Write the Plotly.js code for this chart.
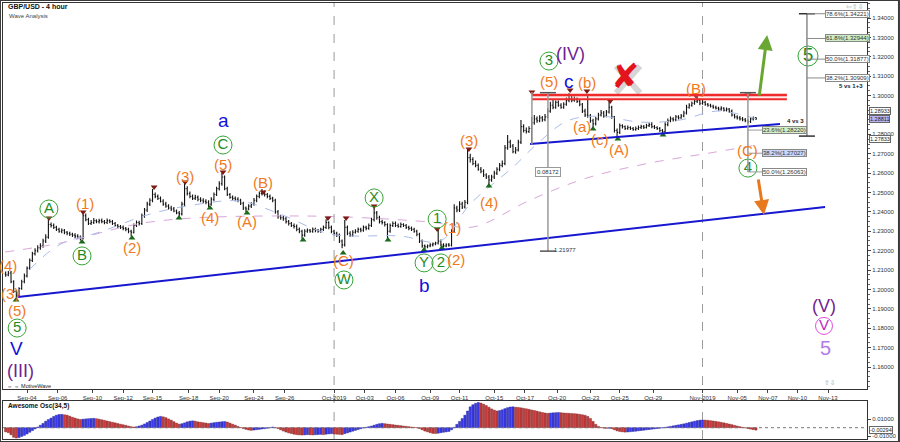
<!DOCTYPE html>
<html><head><meta charset="utf-8">
<script src="https://cdn.plot.ly/plotly-3.0.1.min.js"></script>
<style>html,body{margin:0;padding:0;background:#fff}#chart{width:900px;height:442px}</style>
</head><body><div id="chart"></div>
<script>
// ---------- DATA (4-hour bars, bar index 4..285 in trading time) ----------
const FIRST_BAR = 4;
const openP = [
1.2080,1.2075,
1.2085,1.2040,1.1990,1.1970,1.2005,1.2040,
1.2070,1.2110,1.2150,1.2185,1.2200,1.2215,
1.2225,1.2250,1.2270,1.2335,1.2330,1.2320,
1.2310,1.2300,1.2305,1.2295,1.2290,1.2285,
1.2280,1.2275,1.2270,1.2265,1.2380,1.2360,
1.2340,1.2345,1.2355,1.2350,1.2355,1.2350,
1.2345,1.2355,1.2350,1.2340,1.2330,1.2325,
1.2320,1.2315,1.2310,1.2300,1.2295,1.2330,
1.2345,1.2340,1.2380,1.2410,1.2440,1.2460,
1.2490,1.2480,1.2470,1.2455,1.2440,1.2430,
1.2420,1.2415,1.2405,1.2395,1.2390,1.2440,
1.2520,1.2495,1.2480,1.2470,1.2475,1.2465,
1.2460,1.2455,1.2450,1.2440,1.2465,1.2490,
1.2520,1.2545,1.2580,1.2520,1.2490,1.2475,
1.2470,1.2465,1.2460,1.2445,1.2420,1.2415,
1.2430,1.2440,1.2460,1.2480,1.2495,1.2500,
1.2490,1.2480,1.2470,1.2460,1.2400,1.2375,
1.2370,1.2365,1.2350,1.2340,1.2330,1.2325,
1.2310,1.2300,1.2280,1.2300,1.2305,1.2300,
1.2310,1.2305,1.2300,1.2310,1.2320,1.2345,
1.2320,1.2300,1.2290,1.2280,1.2250,1.2230,
1.2320,1.2290,1.2280,1.2295,1.2300,1.2310,
1.2305,1.2320,1.2315,1.2330,1.2360,1.2395,
1.2370,1.2350,1.2345,1.2335,1.2300,1.2330,
1.2340,1.2330,1.2325,1.2335,1.2330,1.2320,
1.2315,1.2310,1.2300,1.2285,1.2250,1.2225,
1.2220,1.2225,1.2230,1.2235,1.2240,1.2250,
1.2230,1.2225,1.2230,1.2228,1.2300,1.2420,
1.2410,1.2440,1.2425,1.2450,1.2680,1.2670,
1.2650,1.2640,1.2620,1.2610,1.2590,1.2580,
1.2565,1.2580,1.2600,1.2620,1.2640,1.2650,
1.2730,1.2760,1.2740,1.2710,1.2720,1.2760,
1.2840,1.2820,1.2815,1.2830,1.2860,1.2880,
1.2870,1.2885,1.2875,1.2890,1.2920,1.2950,
1.2940,1.2965,1.2950,1.2940,1.2955,1.2975,
1.2985,1.2975,1.2980,1.2970,1.2955,1.2920,
1.2900,1.2895,1.2870,1.2855,1.2880,1.2900,
1.2910,1.2895,1.2915,1.2940,1.2890,1.2820,
1.2810,1.2845,1.2840,1.2830,1.2835,1.2830,
1.2825,1.2830,1.2835,1.2840,1.2835,1.2845,
1.2850,1.2840,1.2835,1.2830,1.2820,1.2815,
1.2850,1.2870,1.2880,1.2875,1.2890,1.2885,
1.2895,1.2910,1.2940,1.2950,1.2960,1.2970,
1.2975,1.2960,1.2965,1.2955,1.2950,1.2945,
1.2940,1.2935,1.2930,1.2935,1.2925,1.2930,
1.2920,1.2900,1.2890,1.2885,1.2880,1.2875,
1.2870,1.2865,1.2880,1.2885];
const highP = [
1.2092,1.2095,
1.2095,1.2048,1.1998,1.2012,1.2050,1.2082,
1.2118,1.2160,1.2195,1.2212,1.2228,1.2238,
1.2262,1.2285,1.2358,1.2345,1.2340,1.2328,
1.2318,1.2315,1.2312,1.2302,1.2298,1.2292,
1.2290,1.2285,1.2278,1.2398,1.2392,1.2370,
1.2358,1.2368,1.2362,1.2365,1.2366,1.2358,
1.2366,1.2362,1.2358,1.2348,1.2338,1.2332,
1.2330,1.2322,1.2318,1.2308,1.2340,1.2356,
1.2355,1.2392,1.2420,1.2452,1.2470,1.2518,
1.2500,1.2490,1.2480,1.2465,1.2452,1.2440,
1.2432,1.2425,1.2412,1.2405,1.2452,1.2549,
1.2532,1.2505,1.2490,1.2488,1.2485,1.2475,
1.2470,1.2465,1.2460,1.2475,1.2500,1.2530,
1.2558,1.2601,1.2588,1.2530,1.2498,1.2485,
1.2480,1.2475,1.2468,1.2452,1.2428,1.2440,
1.2450,1.2472,1.2490,1.2505,1.2518,1.2510,
1.2498,1.2490,1.2478,1.2468,1.2410,1.2385,
1.2380,1.2375,1.2358,1.2348,1.2340,1.2335,
1.2320,1.2308,1.2310,1.2315,1.2312,1.2320,
1.2318,1.2312,1.2318,1.2330,1.2362,1.2352,
1.2330,1.2308,1.2298,1.2288,1.2258,1.2358,
1.2330,1.2300,1.2305,1.2310,1.2320,1.2318,
1.2330,1.2328,1.2340,1.2370,1.2425,1.2405,
1.2380,1.2360,1.2352,1.2342,1.2340,1.2350,
1.2350,1.2340,1.2345,1.2342,1.2338,1.2328,
1.2325,1.2318,1.2308,1.2292,1.2258,1.2232,
1.2232,1.2238,1.2242,1.2246,1.2307,1.2258,
1.2238,1.2238,1.2240,1.2310,1.2440,1.2432,
1.2455,1.2452,1.2462,1.2724,1.2700,1.2682,
1.2665,1.2650,1.2632,1.2620,1.2600,1.2590,
1.2592,1.2612,1.2630,1.2652,1.2665,1.2745,
1.2797,1.2772,1.2750,1.2735,1.2772,1.2874,
1.2852,1.2835,1.2842,1.2890,1.2900,1.2892,
1.2898,1.2895,1.2905,1.2935,1.2968,1.2977,
1.2975,1.2975,1.2960,1.2965,1.2990,1.3012,
1.2998,1.2995,1.2990,1.2980,1.2962,1.2932,
1.3000,1.2905,1.2880,1.2890,1.2912,1.2925,
1.2920,1.2925,1.2967,1.2948,1.2895,1.2830,
1.2856,1.2852,1.2845,1.2845,1.2842,1.2838,
1.2840,1.2845,1.2850,1.2848,1.2855,1.2860,
1.2862,1.2848,1.2842,1.2838,1.2828,1.2862,
1.2882,1.2892,1.2888,1.2900,1.2898,1.2905,
1.2922,1.2952,1.2960,1.2970,1.2980,1.2993,
1.2985,1.2978,1.2972,1.2962,1.2958,1.2952,
1.2948,1.2942,1.2945,1.2940,1.2938,1.2936,
1.2928,1.2905,1.2898,1.2895,1.2890,1.2884,
1.2878,1.2888,1.2892,1.2890];
const lowP = [
1.2065,1.2068,
1.2032,1.1982,1.1959,1.1963,1.1998,1.2032,
1.2062,1.2102,1.2142,1.2175,1.2190,1.2205,
1.2215,1.2240,1.2262,1.2320,1.2312,1.2302,
1.2292,1.2290,1.2285,1.2280,1.2276,1.2270,
1.2266,1.2262,1.2252,1.2258,1.2352,1.2332,
1.2332,1.2338,1.2342,1.2340,1.2342,1.2336,
1.2338,1.2342,1.2332,1.2322,1.2316,1.2312,
1.2305,1.2300,1.2290,1.2275,1.2288,1.2322,
1.2330,1.2332,1.2370,1.2400,1.2430,1.2450,
1.2470,1.2462,1.2448,1.2432,1.2422,1.2412,
1.2405,1.2398,1.2388,1.2375,1.2382,1.2430,
1.2485,1.2470,1.2462,1.2462,1.2455,1.2450,
1.2445,1.2440,1.2425,1.2432,1.2455,1.2482,
1.2510,1.2535,1.2512,1.2482,1.2468,1.2462,
1.2455,1.2450,1.2435,1.2410,1.2400,1.2408,
1.2420,1.2432,1.2450,1.2470,1.2485,1.2480,
1.2470,1.2462,1.2450,1.2390,1.2365,1.2360,
1.2355,1.2340,1.2330,1.2322,1.2315,1.2300,
1.2290,1.2262,1.2272,1.2292,1.2292,1.2292,
1.2295,1.2292,1.2292,1.2302,1.2312,1.2310,
1.2290,1.2280,1.2270,1.2240,1.2212,1.2222,
1.2280,1.2270,1.2272,1.2288,1.2292,1.2295,
1.2298,1.2305,1.2308,1.2322,1.2350,1.2360,
1.2340,1.2335,1.2325,1.2262,1.2292,1.2322,
1.2322,1.2318,1.2318,1.2322,1.2312,1.2305,
1.2302,1.2292,1.2275,1.2240,1.2215,1.2209,
1.2212,1.2218,1.2222,1.2228,1.2232,1.2222,
1.2219,1.2218,1.2220,1.2222,1.2292,1.2398,
1.2400,1.2415,1.2418,1.2440,1.2655,1.2640,
1.2630,1.2612,1.2600,1.2580,1.2570,1.2539,
1.2555,1.2570,1.2590,1.2610,1.2630,1.2640,
1.2720,1.2730,1.2702,1.2700,1.2712,1.2750,
1.2810,1.2805,1.2807,1.2755,1.2850,1.2860,
1.2862,1.2865,1.2868,1.2882,1.2912,1.2930,
1.2932,1.2942,1.2932,1.2932,1.2948,1.2965,
1.2965,1.2968,1.2962,1.2945,1.2910,1.2890,
1.2885,1.2860,1.2833,1.2845,1.2872,1.2892,
1.2885,1.2888,1.2908,1.2880,1.2810,1.2781,
1.2802,1.2830,1.2822,1.2824,1.2822,1.2818,
1.2818,1.2822,1.2828,1.2828,1.2830,1.2838,
1.2832,1.2828,1.2822,1.2812,1.2797,1.2808,
1.2842,1.2862,1.2866,1.2868,1.2876,1.2880,
1.2888,1.2902,1.2932,1.2942,1.2952,1.2962,
1.2950,1.2952,1.2948,1.2942,1.2938,1.2932,
1.2928,1.2922,1.2922,1.2918,1.2918,1.2912,
1.2892,1.2882,1.2876,1.2872,1.2868,1.2862,
1.2855,1.2858,1.2872,1.2874];
const closeP = [
1.2075,1.2085,
1.2040,1.1990,1.1970,1.2005,1.2040,1.2070,
1.2110,1.2150,1.2185,1.2200,1.2215,1.2225,
1.2250,1.2270,1.2335,1.2330,1.2320,1.2310,
1.2300,1.2305,1.2295,1.2290,1.2285,1.2280,
1.2275,1.2270,1.2265,1.2380,1.2360,1.2340,
1.2345,1.2355,1.2350,1.2355,1.2350,1.2345,
1.2355,1.2350,1.2340,1.2330,1.2325,1.2320,
1.2315,1.2310,1.2300,1.2295,1.2330,1.2345,
1.2340,1.2380,1.2410,1.2440,1.2460,1.2490,
1.2480,1.2470,1.2455,1.2440,1.2430,1.2420,
1.2415,1.2405,1.2395,1.2390,1.2440,1.2520,
1.2495,1.2480,1.2470,1.2475,1.2465,1.2460,
1.2455,1.2450,1.2440,1.2465,1.2490,1.2520,
1.2545,1.2580,1.2520,1.2490,1.2475,1.2470,
1.2465,1.2460,1.2445,1.2420,1.2415,1.2430,
1.2440,1.2460,1.2480,1.2495,1.2500,1.2490,
1.2480,1.2470,1.2460,1.2400,1.2375,1.2370,
1.2365,1.2350,1.2340,1.2330,1.2325,1.2310,
1.2300,1.2280,1.2300,1.2305,1.2300,1.2310,
1.2305,1.2300,1.2310,1.2320,1.2345,1.2320,
1.2300,1.2290,1.2280,1.2250,1.2230,1.2320,
1.2290,1.2280,1.2295,1.2300,1.2310,1.2305,
1.2320,1.2315,1.2330,1.2360,1.2395,1.2370,
1.2350,1.2345,1.2335,1.2300,1.2330,1.2340,
1.2330,1.2325,1.2335,1.2330,1.2320,1.2315,
1.2310,1.2300,1.2285,1.2250,1.2225,1.2220,
1.2225,1.2230,1.2235,1.2240,1.2250,1.2230,
1.2225,1.2230,1.2228,1.2300,1.2420,1.2410,
1.2440,1.2425,1.2450,1.2680,1.2670,1.2650,
1.2640,1.2620,1.2610,1.2590,1.2580,1.2565,
1.2580,1.2600,1.2620,1.2640,1.2650,1.2730,
1.2760,1.2740,1.2710,1.2720,1.2760,1.2840,
1.2820,1.2815,1.2830,1.2860,1.2880,1.2870,
1.2885,1.2875,1.2890,1.2920,1.2950,1.2940,
1.2965,1.2950,1.2940,1.2955,1.2975,1.2985,
1.2975,1.2980,1.2970,1.2955,1.2920,1.2900,
1.2895,1.2870,1.2855,1.2880,1.2900,1.2910,
1.2895,1.2915,1.2940,1.2890,1.2820,1.2810,
1.2845,1.2840,1.2830,1.2835,1.2830,1.2825,
1.2830,1.2835,1.2840,1.2835,1.2845,1.2850,
1.2840,1.2835,1.2830,1.2820,1.2815,1.2850,
1.2870,1.2880,1.2875,1.2890,1.2885,1.2895,
1.2910,1.2940,1.2950,1.2960,1.2970,1.2975,
1.2960,1.2965,1.2955,1.2950,1.2945,1.2940,
1.2935,1.2930,1.2935,1.2925,1.2930,1.2920,
1.2900,1.2890,1.2885,1.2880,1.2875,1.2870,
1.2865,1.2880,1.2885,1.2881];
// Awesome Oscillator (34,5), one value per bar
const aoValues = [
-0.0050,-0.0060,
-0.0085,-0.0115,-0.0124,-0.0118,-0.0105,-0.0092,
-0.0075,-0.0055,-0.0035,-0.0015,0.0008,0.0030,
0.0052,0.0078,0.0098,0.0115,0.0135,0.0150,
0.0158,0.0160,0.0155,0.0150,0.0138,0.0125,
0.0115,0.0105,0.0098,0.0102,0.0105,0.0108,
0.0110,0.0112,0.0108,0.0102,0.0095,0.0088,
0.0080,0.0072,0.0065,0.0058,0.0050,0.0042,
0.0035,0.0028,0.0020,0.0012,0.0008,0.0012,
0.0020,0.0030,0.0045,0.0062,0.0080,0.0098,
0.0115,0.0128,0.0135,0.0130,0.0120,0.0105,
0.0090,0.0072,0.0055,0.0042,0.0048,0.0058,
0.0070,0.0078,0.0082,0.0078,0.0070,0.0065,
0.0060,0.0055,0.0050,0.0055,0.0060,0.0065,
0.0068,0.0072,0.0074,0.0068,0.0055,0.0042,
0.0030,0.0015,0.0002,-0.0010,-0.0020,-0.0028,
-0.0032,-0.0028,-0.0024,-0.0020,-0.0016,-0.0012,
-0.0006,0.0000,0.0008,0.0002,-0.0010,-0.0025,
-0.0040,-0.0052,-0.0062,-0.0070,-0.0078,-0.0083,
-0.0086,-0.0088,-0.0086,-0.0083,-0.0085,-0.0087,
-0.0084,-0.0082,-0.0080,-0.0083,-0.0078,-0.0074,
-0.0072,-0.0075,-0.0078,-0.0080,-0.0083,-0.0072,
-0.0062,-0.0052,-0.0042,-0.0032,-0.0022,-0.0012,
-0.0004,0.0004,0.0012,0.0020,0.0030,0.0040,
0.0048,0.0052,0.0048,0.0044,0.0040,0.0036,
0.0032,0.0028,0.0024,0.0020,0.0016,0.0012,
0.0008,0.0004,0.0000,-0.0010,-0.0025,-0.0040,
-0.0050,-0.0060,-0.0068,-0.0070,-0.0066,-0.0060,
-0.0055,-0.0050,-0.0045,-0.0025,0.0005,0.0040,
0.0075,0.0110,0.0150,0.0200,0.0250,0.0275,
0.0292,0.0302,0.0295,0.0282,0.0265,0.0245,
0.0225,0.0210,0.0200,0.0205,0.0215,0.0228,
0.0240,0.0248,0.0250,0.0245,0.0242,0.0238,
0.0232,0.0226,0.0220,0.0212,0.0206,0.0198,
0.0190,0.0182,0.0176,0.0172,0.0175,0.0178,
0.0180,0.0182,0.0179,0.0176,0.0174,0.0172,
0.0170,0.0168,0.0165,0.0160,0.0155,0.0148,
0.0135,0.0110,0.0075,0.0040,0.0015,0.0002,
-0.0005,-0.0008,-0.0006,-0.0012,-0.0025,-0.0038,
-0.0045,-0.0050,-0.0053,-0.0051,-0.0048,-0.0045,
-0.0042,-0.0038,-0.0034,-0.0030,-0.0026,-0.0022,
-0.0018,-0.0014,-0.0010,-0.0006,-0.0002,0.0004,
0.0010,0.0016,0.0022,0.0028,0.0034,0.0040,
0.0046,0.0054,0.0062,0.0070,0.0078,0.0085,
0.0090,0.0092,0.0091,0.0088,0.0084,0.0080,
0.0075,0.0070,0.0064,0.0058,0.0051,0.0044,
0.0036,0.0028,0.0020,0.0012,0.0005,-0.0002,
-0.0010,-0.0017,-0.0023,-0.0029];

// x-axis tick labels (trading-time bar index)
const tickBars = [12,23.5,36.5,48,59,72.5,84,97,108.5,127,138.5,150,163,174,187,198.5,210.5,223,234,246.5,265,278,289.5,300.5,312];
const tickLabels = ["Sep-04","Sep-06","Sep-10","Sep-12","Sep-15","Sep-18","Sep-20","Sep-24","Sep-26","Oct-2019","Oct-03","Oct-06","Oct-09","Oct-11","Oct-15","Oct-17","Oct-20","Oct-23","Oct-25","Oct-29","Nov-2019","Nov-05","Nov-07","Nov-10","Nov-13"];
const monthBars = [127, 265];
// price-axis ticks (1.29000 is hidden behind the live-price boxes)
const priceTicks = [1.16,1.17,1.18,1.19,1.20,1.21,1.22,1.23,1.24,1.25,1.26,1.27,1.28,1.29,1.30,1.31,1.32,1.33,1.34];
const priceTickText = ["1.16000","1.17000","1.18000","1.19000","1.20000","1.21000","1.22000","1.23000","1.24000","1.25000","1.26000","1.27000","1.28000","","1.30000","1.31000","1.32000","1.33000","1.34000"];

// Elliott wave labels [text, bar, price]
const orangeLabels = [["(3)",5.5,1.1977],["(4)",4.9,1.2126],["(5)",8.3,1.1894],["(1)",33.7,1.2441],["(2)",51.3,1.2219],
 ["(3)",71.2,1.2585],["(4)",80.5,1.2369],["(5)",85.4,1.2642],["(A)",94.4,1.2348],["(B)",100.4,1.2554],["(C)",130.7,1.2147],
 ["(1)",171.2,1.2322],["(2)",172.7,1.2152],["(3)",177.5,1.2766],["(4)",185,1.2451],["(5)",207.5,1.3075],["(b)",221.7,1.3065],
 ["(a)",219.8,1.2838],["(c)",226.6,1.2771],["(A)",233.7,1.2724],["(B)",262.6,1.3034],["(C)",281.7,1.2719]];
const greenCircles = [["5",8.3,1.1801],["A",20.2,1.2415],["B",32.6,1.2173],["C",85.4,1.2745],["W",130.7,1.2049],["X",142,1.2472],
 ["Y",160.7,1.2137],["1",165.6,1.2363],["2",167,1.2137],["3",207.5,1.3178],["4",282,1.2626]];
const bigGreenCircle = [["5",304.5,1.3204]];
const blueLabels = [["V",7.9,1.1693],["a",85.4,1.2872],["b",161,1.2018],["c",215,1.3075]];
const purpleLabels = [["(III)",9.4,1.1579],["(IV)",215.7,1.3214],["(V)",310.5,1.1915]];
const magentaCircle = [["V",310.5,1.1812]];
const lightPurpleLabels = [["5",310.9,1.1698]];
const redCross = [236, 1.3101];
const redCrossShadow = [[232.6,1.31525,241.6,1.30132],[241.6,1.31525,232.6,1.30132]];

// pivot markers [bar, price]
const highMarks = [[20.2,1.2369],[33,1.2400],[59.6,1.2528],[71.2,1.2554],[85.4,1.2606],[100.4,1.2503],[124.7,1.2369],[131.5,1.2369],
 [142,1.2430],[165.6,1.2312],[177.5,1.2724],[201.1,1.3018],[215.4,1.3029],[221.7,1.3024],[230.4,1.2972],[262.6,1.2998],[282,1.3003]];
const lowMarks = [[7.9,1.1946],[32.6,1.2245],[51.3,1.2265],[68.9,1.2369],[80.5,1.2420],[94.4,1.2394],[115.4,1.2255],[130.4,1.2188],
 [147.2,1.2255],[160.7,1.2204],[167.4,1.2214],[185,1.2534],[224,1.2828],[233.3,1.2776],[250.2,1.2797]];

// trend lines [bar0, price0, bar1, price1]
const blueTrendLines = [[8.6,1.1961,310.9,1.2425],[200.4,1.2750,294,1.2853]];
const redLevels = [[201.1,296.6,1.3003],[201.1,296.6,1.2981]];
// moving averages (dashed) sampled [bar, price]
const maSlow = [[3.8,1.2193],[24.4,1.2239],[58.1,1.2348],[114.2,1.2379],[162.9,1.2348],[179,1.2322],[200.4,1.2461],[221.7,1.2575],[245.3,1.2652],[267.8,1.2704],[285.4,1.2745]];
const maFast = [[13,1.2104],[24.4,1.2233],[39.3,1.2296],[58.1,1.2389],[76.8,1.2441],[91.8,1.2456],[106.8,1.2389],[125.5,1.2286],[151.7,1.2276],[166.7,1.2250],[178,1.2441],[194.1,1.2632],[203,1.2750],[214.3,1.2869],[226.6,1.2894],[241.6,1.2863],[256.6,1.2874],[270.5,1.2920],[285.4,1.2879]];

// measuring / fibonacci tools
const measureTool = {bar:207.1, top:1.30149, bottom:1.21977, text:"0.08172", textPrice:1.2606, endText:"1.21977"};
const fib43 = {bar:282, top:1.30149, bottom:1.26063, title:"4 vs 3"};
const fib43Levels = [["23.6%(1.28220)",1.28220,"#d5f0c8"],["38.2%(1.27027)",1.27027,"#cdd6f6"],["50.0%(1.26063)",1.26063,"#ffffff"]];
const fib513 = {bar:304.1, top:1.34221, bottom:1.2791, title:"5 vs 1+3"};
const fib513Levels = [["78.6%(1.34221)",1.34221,"#ffffff"],["61.8%(1.32944)",1.32944,"#cdeec4"],["50.0%(1.31877)",1.31877,"#ffffff"],["38.2%(1.30909)",1.30909,"#ffffff"]];
const priceBoxes = [["1.28933",1.2922,"#ffffff"],["1.28811",1.28811,"#b9b2f0"],["1.27833",1.2774,"#ffffff"]];
const aoCurrent = -0.00294;

// ---------- BUILD ----------
const barX = closeP.map((_, k) => FIRST_BAR + k);
const FONT = "Liberation Sans, Arial, sans-serif";
const ORANGE = "#f07a22", GREEN = "#1f8c1f", BLUE = "#1212d8", PURPLE = "#6e1f91";

const aoColors = aoValues.map((v, k) => (k > 0 && v > aoValues[k-1]) ? "#3a3ae8" : "#c63c3c");
const aoLines = aoValues.map((v, k) => (k > 0 && v > aoValues[k-1]) ? "#1e1e90" : "#7a1d1d");

const traces = [];
traces.push({type:"scatter", mode:"lines", x:maSlow.map(p=>p[0]), y:maSlow.map(p=>p[1]), line:{color:"#d9a6d9", width:1, dash:"dash", shape:"spline"}, hoverinfo:"skip", xaxis:"x", yaxis:"y"});
traces.push({type:"scatter", mode:"lines", x:maFast.map(p=>p[0]), y:maFast.map(p=>p[1]), line:{color:"#a9bbea", width:1, dash:"dash", shape:"spline"}, hoverinfo:"skip", xaxis:"x", yaxis:"y"});
traces.push({type:"ohlc", x:barX, open:openP, high:highP, low:lowP, close:closeP,
  increasing:{line:{color:"#111", width:1.1}}, decreasing:{line:{color:"#111", width:1.1}}, tickwidth:0.35, xaxis:"x", yaxis:"y", hoverinfo:"skip"});
traces.push({type:"scatter", mode:"markers", x:highMarks.map(p=>p[0]), y:highMarks.map(p=>p[1]), marker:{symbol:"triangle-down", size:6, color:"#7c1a14"}, xaxis:"x", yaxis:"y", hoverinfo:"skip"});
traces.push({type:"scatter", mode:"markers", x:lowMarks.map(p=>p[0]), y:lowMarks.map(p=>p[1]), marker:{symbol:"triangle-up", size:6, color:"#1b6a1b"}, xaxis:"x", yaxis:"y", hoverinfo:"skip"});
function circled(list, size, lineColor, textColor, fontSize){
  return {type:"scatter", mode:"markers+text", x:list.map(p=>p[1]), y:list.map(p=>p[2]), text:list.map(p=>p[0]), textposition:"middle center",
    textfont:{family:FONT, size:fontSize, color:textColor}, marker:{symbol:"circle-open", size:size, color:lineColor, line:{width:1, color:lineColor}},
    xaxis:"x", yaxis:"y", hoverinfo:"skip", cliponaxis:false};
}
traces.push(circled(greenCircles, 18, "#35a535", GREEN, 15));
traces.push(circled(bigGreenCircle, 20, "#35a535", GREEN, 19));
traces.push(circled(magentaCircle, 17, "#e050e0", "#c21fc2", 15));
traces.push({type:"bar", x:barX, y:aoValues, marker:{color:aoColors, line:{color:aoLines, width:0.4}}, width:0.85, xaxis:"x2", yaxis:"y2", hoverinfo:"skip"});

const ann = [];
function addText(list, color, size){
  list.forEach(p => ann.push({x:p[1], y:p[2], xref:"x", yref:"y", text:p[0], showarrow:false, font:{family:FONT, size:size, color:color}}));
}
addText(orangeLabels, ORANGE, 15);
addText(blueLabels, BLUE, 19);
addText(purpleLabels, PURPLE, 18);
addText(lightPurpleLabels, "#b67be6", 20);
// red X
ann.push({x:redCross[0], y:redCross[1], xref:"x", yref:"y", text:"✘", showarrow:false, font:{family:"DejaVu Sans", size:34, color:"#e4141c"}});
// arrows
ann.push({x:289.2, y:1.3312, ax:286.2, ay:1.2993, xref:"x", yref:"y", axref:"x", ayref:"y", text:"", showarrow:true, arrowhead:2, arrowsize:1, arrowwidth:3, arrowcolor:"#6aa632"});
ann.push({x:288, y:1.2384, ax:285.8, ay:1.2575, xref:"x", yref:"y", axref:"x", ayref:"y", text:"", showarrow:true, arrowhead:2, arrowsize:1, arrowwidth:3, arrowcolor:"#e8781e"});
// tools text
ann.push({x:measureTool.bar, y:measureTool.textPrice, xref:"x", yref:"y", text:measureTool.text, showarrow:false, bgcolor:"#fff", bordercolor:"#999", borderwidth:1, borderpad:1, font:{family:FONT, size:6, color:"#333"}});
ann.push({x:measureTool.bar+1.5, y:measureTool.bottom+0.0004, xref:"x", yref:"y", text:measureTool.endText, showarrow:false, xanchor:"left", font:{family:FONT, size:6, color:"#333"}});
fib43Levels.forEach(l => ann.push({x:fib43.bar+5.3, y:l[1], xref:"x", yref:"y", text:l[0], showarrow:false, xanchor:"left", bgcolor:l[2], bordercolor:"#888", borderwidth:1, borderpad:0, font:{family:FONT, size:6, color:"#333"}}));
ann.push({x:fib43.bar+14, y:1.2869, xref:"x", yref:"y", text:"<b>"+fib43.title+"</b>", showarrow:false, xanchor:"left", font:{family:FONT, size:6, color:"#222"}});
fib513Levels.forEach(l => ann.push({x:fib513.bar+6.8, y:l[1], xref:"x", yref:"y", text:l[0], showarrow:false, xanchor:"left", bgcolor:l[2], bordercolor:"#888", borderwidth:1, borderpad:0, font:{family:FONT, size:6, color:"#333"}}));
ann.push({x:326, y:1.3049, xref:"x", yref:"y", text:"<b>"+fib513.title+"</b>", showarrow:false, xanchor:"right", font:{family:FONT, size:6, color:"#222"}});
priceBoxes.forEach(b => ann.push({x:1.002, y:b[1], xref:"paper", yref:"y", text:b[0], showarrow:false, xanchor:"left", bgcolor:b[2], bordercolor:"#666", borderwidth:1, borderpad:0, font:{family:FONT, size:5.5, color:"#222"}}));
ann.push({x:1.002, y:aoCurrent, xref:"paper", yref:"y2", text:aoCurrent.toFixed(5), showarrow:false, xanchor:"left", bgcolor:"#fff", bordercolor:"#666", borderwidth:1, borderpad:0, font:{family:FONT, size:5.5, color:"#222"}});
// titles
ann.push({x:0.004, y:0.991, xref:"paper", yref:"paper", text:"<b>GBP/USD - 4 hour</b>", showarrow:false, xanchor:"left", yanchor:"middle", font:{family:FONT, size:7, color:"#111"}});
ann.push({x:0.005, y:0.970, xref:"paper", yref:"paper", text:"Wave Analysis", showarrow:false, xanchor:"left", yanchor:"middle", font:{family:FONT, size:6, color:"#444"}});
ann.push({x:0.003, y:0.076, xref:"paper", yref:"paper", text:"<b>Awesome Osc(34,5)</b>", showarrow:false, xanchor:"left", yanchor:"middle", font:{family:FONT, size:6.5, color:"#111"}});
ann.push({x:0.002, y:0.121, xref:"paper", yref:"paper", text:"⇔ ⇔ MotiveWave", showarrow:false, xanchor:"left", yanchor:"middle", font:{family:FONT, size:5.5, color:"#222"}});
ann.push({x:0.999, y:0.99, xref:"paper", yref:"paper", text:"⇦⇧⇩", showarrow:false, xanchor:"right", yanchor:"middle", font:{family:"DejaVu Sans", size:7, color:"#aaa"}});
ann.push({x:0.967, y:0.128, xref:"paper", yref:"paper", text:"⇧⇩", showarrow:false, xanchor:"right", yanchor:"middle", font:{family:"DejaVu Sans", size:7, color:"#aaa"}});

const shapes = [];
monthBars.forEach(b => shapes.push({type:"line", xref:"x", yref:"paper", x0:b, x1:b, y0:0, y1:1, line:{color:"#9a9a9a", width:1, dash:"dash"}, layer:"below"}));
blueTrendLines.forEach(t => shapes.push({type:"line", xref:"x", yref:"y", x0:t[0], y0:t[1], x1:t[2], y1:t[3], line:{color:"#1717cf", width:2}}));
shapes.push({type:"rect", xref:"x", yref:"y", x0:redLevels[0][0], x1:redLevels[0][1], y0:redLevels[1][2], y1:redLevels[0][2], fillcolor:"rgba(255,170,170,0.25)", line:{width:0}});
redLevels.forEach((r,k) => shapes.push({type:"line", xref:"x", yref:"y", x0:r[0], x1:r[1], y0:r[2], y1:r[2], line:{color:"#ee2a2a", width:k===0?2.5:2}}));
// red X shadow
redCrossShadow.forEach(s => shapes.push({type:"line", xref:"x", yref:"y", x0:s[0], y0:s[1], x1:s[2], y1:s[3], line:{color:"rgba(0,0,0,0.16)", width:6}, layer:"below"}));
// measure tool
shapes.push({type:"line", xref:"x", yref:"y", x0:measureTool.bar, x1:measureTool.bar, y0:measureTool.bottom, y1:measureTool.top, line:{color:"#9a9a9a", width:1.5}});
[measureTool.top, measureTool.bottom].forEach(v => shapes.push({type:"line", xref:"x", yref:"y", x0:measureTool.bar-3, x1:measureTool.bar+3, y0:v, y1:v, line:{color:"#555", width:1.5}}));
shapes.push({type:"line", xref:"x", yref:"y", x0:201.1, x1:201.1, y0:1.2747, y1:1.3018, line:{color:"#9a9a9a", width:1.5}});
// fib 4 vs 3
shapes.push({type:"line", xref:"x", yref:"y", x0:fib43.bar, x1:fib43.bar, y0:fib43.bottom, y1:fib43.top, line:{color:"#9a9a9a", width:1.5}});
shapes.push({type:"line", xref:"x", yref:"y", x0:fib43.bar-3, x1:fib43.bar+3, y0:fib43.top, y1:fib43.top, line:{color:"#555", width:1.5}});
fib43Levels.forEach(l => shapes.push({type:"line", xref:"x", yref:"y", x0:fib43.bar, x1:fib43.bar+5.3, y0:l[1], y1:l[1], line:{color:"#9a9a9a", width:1}}));
// fib 5 vs 1+3
shapes.push({type:"line", xref:"x", yref:"y", x0:fib513.bar, x1:fib513.bar, y0:fib513.bottom, y1:fib513.top, line:{color:"#8a8a8a", width:1.5}});
[fib513.top, fib513.bottom].forEach(v => shapes.push({type:"line", xref:"x", yref:"y", x0:fib513.bar-3, x1:fib513.bar+3, y0:v, y1:v, line:{color:"#333", width:1.5}}));
fib513Levels.forEach(l => shapes.push({type:"line", xref:"x", yref:"y", x0:fib513.bar, x1:fib513.bar+6.8, y0:l[1], y1:l[1], line:{color:"#8a8a8a", width:1}}));
// AO zero line
shapes.push({type:"line", xref:"paper", yref:"y2", x0:0, x1:1, y0:0, y1:0, line:{color:"#777", width:1, dash:"dot"}});
// frame
shapes.push({type:"rect", xref:"paper", yref:"paper", x0:-0.0035, x1:1.037, y0:-0.0069, y1:1.0069, line:{color:"#3a3a3a", width:2}, fillcolor:"rgba(0,0,0,0)"});

const layout = {
  width:900, height:442, margin:{l:3, r:33, t:3, b:3}, paper_bgcolor:"#ffffff", plot_bgcolor:"#ffffff", showlegend:false,
  font:{family:FONT, size:6, color:"#333"},
  xaxis:{domain:[0,1], anchor:"y", range:[3,326.6], tickmode:"array", tickvals:tickBars, ticktext:tickLabels, tickfont:{family:FONT, size:6, color:"#333"},
    ticks:"outside", ticklen:3, tickcolor:"#444", showgrid:false, zeroline:false, showline:true, linecolor:"#333", linewidth:1, mirror:true, rangeslider:{visible:false}, fixedrange:true},
  xaxis2:{domain:[0,1], anchor:"y2", matches:"x", showticklabels:false, ticks:"", showgrid:false, zeroline:false, showline:true, linecolor:"#333", linewidth:1, mirror:true},
  yaxis:{domain:[0.1147,1], anchor:"x", side:"right", range:[1.14867,1.34774], tickmode:"array", tickvals:priceTicks, ticktext:priceTickText, tickfont:{family:FONT, size:6, color:"#333"},
    ticks:"outside", ticklen:3, tickcolor:"#444", minor:{ticks:"outside", ticklen:2, dtick:0.0025, tick0:1.0, tickcolor:"#666"}, showgrid:false, zeroline:false, showline:true, linecolor:"#333", linewidth:1, mirror:true},
  yaxis2:{domain:[0,0.0872], anchor:"x2", side:"right", range:[-0.01353,0.03198], tickmode:"array", tickvals:[0.01,-0.01], ticktext:["0.01000","-0.01000"],
    tickfont:{family:FONT, size:6, color:"#333"}, ticks:"outside", ticklen:3, tickcolor:"#444", showgrid:false, zeroline:false, showline:true, linecolor:"#333", linewidth:1, mirror:true},
  bargap:0.1, annotations:ann, shapes:shapes
};
Plotly.newPlot("chart", traces, layout, {staticPlot:true, displayModeBar:false});
</script></body></html>
